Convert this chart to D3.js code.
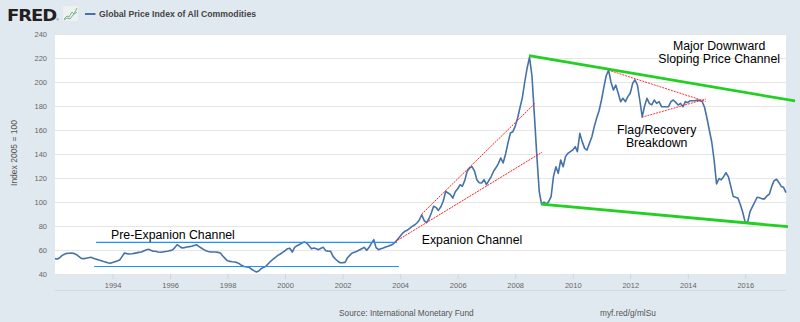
<!DOCTYPE html>
<html>
<head>
<meta charset="utf-8">
<script src="https://cdn.jsdelivr.net/npm/d3@7"></script>
<style>
  body { margin: 0; background: #e1e9f0; }
  svg { display: block; font-family: "Liberation Sans", Arial, sans-serif; }
</style>
</head>
<body>
<div id="chart"></div>
<script>
// monthly index, 2005 = 100, starting Jan 1992
var firstMonth = "1992-01";
var indexValues = [
  52.8, 52.5, 53.5, 55.5, 56.5, 57.2, 57.3, 57.5, 57.0, 56.1, 54.5, 53.0, // 1992
  52.8, 53.2, 53.6, 53.9, 53.2, 52.4, 51.9, 51.3, 50.6, 50.0, 49.3, 48.9, // 1993
  49.6, 50.3, 50.8, 51.7, 54.5, 57.5, 57.0, 56.7, 56.9, 57.2, 57.6, 58.0, // 1994
  58.3, 59.2, 60.0, 60.6, 59.8, 59.0, 58.9, 58.4, 58.1, 58.4, 58.7, 58.9, // 1995
  59.5, 60.0, 62.0, 64.4, 63.0, 61.7, 62.0, 62.5, 62.8, 63.1, 63.8, 64.4, // 1996
  63.0, 61.7, 60.5, 59.4, 58.8, 58.3, 58.3, 58.3, 58.0, 57.5, 55.0, 52.8, // 1997
  51.0, 50.5, 50.2, 50.0, 49.5, 48.5, 47.0, 46.2, 45.8, 45.6, 44.0, 42.8, // 1998
  41.7, 42.5, 44.4, 45.5, 46.4, 48.5, 50.6, 52.3, 53.9, 55.5, 56.7, 58.0, // 1999
  59.4, 61.1, 61.5, 58.3, 62.2, 63.6, 64.5, 65.8, 66.7, 65.8, 63.5, 61.1, // 2000
  61.7, 61.0, 60.3, 61.5, 62.2, 59.4, 59.0, 58.9, 54.7, 52.5, 50.6, 49.4, // 2001
  49.5, 49.7, 53.3, 55.5, 57.5, 58.2, 58.9, 60.0, 61.1, 62.2, 59.7, 62.0, // 2002
  65.5, 68.6, 62.0, 60.3, 61.0, 61.7, 62.5, 63.1, 64.0, 64.8, 66.7, 69.0, // 2003
  71.4, 74.0, 75.6, 76.5, 78.0, 79.7, 80.8, 82.5, 85.0, 89.4, 84.5, 82.8, // 2004
  86.0, 91.0, 96.4, 95.5, 93.0, 96.0, 100.6, 108.9, 107.5, 106.1, 103.3, 108.5, // 2005
  111.0, 114.4, 113.1, 118.0, 125.6, 128.3, 129.5, 126.0, 118.6, 116.0, 115.8, 118.6, // 2006
  114.4, 118.0, 121.0, 125.6, 128.5, 132.0, 136.7, 132.5, 140.0, 149.0, 157.5, 158.5, // 2007
  163.0, 170.0, 178.3, 187.0, 200.0, 211.7, 220.6, 205.0, 172.0, 139.4, 108.9, 98.3, // 2008
  100.0, 98.3, 100.3, 104.4, 121.1, 129.4, 123.9, 135.0, 129.4, 137.8, 140.6, 142.0, // 2009
  143.3, 146.1, 142.0, 157.2, 150.3, 144.7, 143.3, 148.9, 154.4, 162.8, 170.0, 176.0, // 2010
  185.0, 196.0, 205.0, 210.0, 200.0, 193.3, 197.5, 190.6, 183.6, 186.4, 183.6, 187.8, // 2011
  190.6, 198.9, 201.7, 197.5, 185.0, 171.0, 180.0, 186.4, 182.0, 181.0, 185.0, 182.2, // 2012
  183.6, 179.4, 179.4, 179.4, 179.4, 183.6, 185.0, 183.0, 180.8, 182.2, 179.4, 183.6, // 2013
  182.8, 184.4, 184.4, 184.4, 185.0, 184.4, 184.0, 179.0, 170.0, 160.0, 150.0, 135.0, // 2014
  115.0, 119.5, 118.5, 121.1, 124.4, 121.0, 113.0, 104.5, 103.9, 103.1, 97.5, 91.0, // 2015
  82.8, 83.5, 92.0, 96.1, 100.0, 104.0, 103.5, 102.6, 102.6, 105.0, 106.5, 112.8, // 2016
  117.8, 118.9, 116.5, 113.0, 112.2, 107.8 // 2017
];

var yTicks = [40, 60, 80, 100, 120, 140, 160, 180, 200, 220, 240];
var xTickYears = ["1994", "1996", "1998", "2000", "2002", "2004", "2006", "2008", "2010", "2012", "2014", "2016"];

// hand-drawn trend lines, [date, index] pairs
var preExpansionLines = [
  [["1993-06-06", 66.4], ["2003-11-20", 66.4]],
  [["1993-05-11", 46.25], ["2003-12-17", 46.25]]
];
var expansionLines = [
  [["2003-10-30", 66.9], ["2008-12-05", 141.4]],
  [["2004-10-01", 90.0], ["2008-09-09", 182.25]]
];
var flagLines = [
  [["2011-03-25", 210.0], ["2014-08-19", 183.75]],
  [["2012-05-26", 170.6], ["2014-08-19", 185.8]]
];
var channelLines = [
  [["2008-06-25", 221.9], ["2017-09-24", 184.2]],
  [["2008-11-24", 98.3], ["2017-06-27", 79.4]]
];

// text notes: date, index, lines of text
var notesLeft = [
  ["1993-12-13", 69.2, ["Pre-Expanion Channel"]],
  ["2004-10-01", 65.0, ["Expanion Channel"]]
];
var notesCentered = [
  ["2015-02-03", 226.7, ["Major Downward", "Sloping Price Channel"]],
  ["2012-12-02", 156.7, ["Flag/Recovery", "Breakdown"]]
];

var W = 800, H = 322;
var plot = {left: 55, right: 786, top: 34, bottom: 274};

var parseMonth = d3.timeParse("%Y-%m");
var parseDay = d3.timeParse("%Y-%m-%d");
var parseYear = d3.timeParse("%Y");

var start = parseMonth(firstMonth);
var data = indexValues.map(function(v, i) {
  return {date: d3.timeMonth.offset(start, i), value: v};
});

var svg = d3.select("#chart")
  .append("svg")
    .attr("width", W)
    .attr("height", H);

svg.append("rect")
  .attr("width", W)
  .attr("height", H)
  .attr("fill", "#e1e9f0");

var x = d3.scaleTime()
  .domain([data[0].date, data[data.length - 1].date])
  .range([plot.left, plot.right]);

var y = d3.scaleLinear()
  .domain([40, 240])
  .range([plot.bottom, plot.top]);

// white plotting area
svg.append("rect")
  .attr("x", plot.left)
  .attr("y", plot.top)
  .attr("width", plot.right - plot.left)
  .attr("height", plot.bottom - plot.top)
  .attr("fill", "#fff");

// horizontal grid + y labels
var yAxis = svg.append("g")
  .attr("transform", "translate(" + plot.left + ",0)")
  .call(d3.axisLeft(y).tickValues(yTicks).tickSize(-(plot.right - plot.left)).tickPadding(8));
yAxis.select(".domain").remove();
yAxis.selectAll("line").attr("stroke", "#e6e6e6");
yAxis.selectAll("text")
  .attr("fill", "#666")
  .style("font-size", "7.5px")
  .style("font-family", "'Liberation Sans', Arial, sans-serif");

svg.append("text")
  .attr("transform", "translate(17,153) rotate(-90)")
  .attr("text-anchor", "middle")
  .attr("fill", "#555")
  .style("font-size", "8.5px")
  .text("Index 2005 = 100");

// x axis
var xAxis = svg.append("g")
  .attr("transform", "translate(0," + plot.bottom + ")")
  .call(d3.axisBottom(x)
    .tickValues(xTickYears.map(parseYear))
    .tickFormat(d3.timeFormat("%Y"))
    .tickSize(5)
    .tickPadding(4));
xAxis.select(".domain").remove();
xAxis.selectAll("line").attr("stroke", "#ccd6e4");
xAxis.selectAll("text")
  .attr("fill", "#666")
  .style("font-size", "7.5px")
  .style("font-family", "'Liberation Sans', Arial, sans-serif");

svg.append("line")
  .attr("x1", plot.left).attr("x2", plot.right)
  .attr("y1", 290.5).attr("y2", 290.5)
  .attr("stroke", "#cfd9e3");

// the series
svg.append("path")
  .datum(data)
  .attr("fill", "none")
  .attr("stroke", "#4572a7")
  .attr("stroke-width", 1.6)
  .attr("stroke-linejoin", "round")
  .attr("d", d3.line()
    .x(function(d) { return x(d.date); })
    .y(function(d) { return y(d.value); }));

// trend lines
function drawLines(lines, color, width, dash) {
  svg.append("g")
    .selectAll("line")
    .data(lines)
    .enter().append("line")
      .attr("x1", function(d) { return x(parseDay(d[0][0])); })
      .attr("y1", function(d) { return y(d[0][1]); })
      .attr("x2", function(d) { return x(parseDay(d[1][0])); })
      .attr("y2", function(d) { return y(d[1][1]); })
      .attr("stroke", color)
      .attr("stroke-width", width)
      .attr("stroke-dasharray", dash);
}
drawLines(preExpansionLines, "#1e90ff", 1.2, null);
drawLines(expansionLines, "#ff1a1a", 1, "2,1");
drawLines(flagLines, "#ff1a1a", 0.9, "2,1");
drawLines(channelLines, "#22cf22", 2.8, null);

// notes
svg.append("g")
  .selectAll("text")
  .data(notesLeft)
  .enter().append("text")
    .attr("x", function(d) { return x(parseDay(d[0])); })
    .attr("y", function(d) { return y(d[1]); })
    .style("font-size", "12.3px")
    .attr("fill", "#000")
    .text(function(d) { return d[2][0]; });

var centered = svg.append("g")
  .selectAll("text")
  .data(notesCentered)
  .enter().append("text")
    .attr("x", function(d) { return x(parseDay(d[0])); })
    .attr("y", function(d) { return y(d[1]); })
    .attr("text-anchor", "middle")
    .style("font-size", "12.3px")
    .attr("fill", "#000");
centered.selectAll("tspan")
  .data(function(d) { return d[2].map(function(t) { return {t: t, x: x(parseDay(d[0]))}; }); })
  .enter().append("tspan")
    .attr("x", function(d) { return d.x; })
    .attr("dy", function(d, i) { return i ? 12.7 : 0; })
    .text(function(d) { return d.t; });

// header: logo, icon and legend
svg.append("text")
  .attr("x", 7)
  .attr("y", 20.5)
  .attr("textLength", 49)
  .attr("lengthAdjust", "spacingAndGlyphs")
  .attr("fill", "#231f20")
  .style("font-family", "'DejaVu Sans', sans-serif")
  .style("font-size", "16px")
  .style("font-weight", "bold")
  .style("letter-spacing", "-1px")
  .text("FRED");
svg.append("text")
  .attr("x", 56.5).attr("y", 20.5)
  .attr("fill", "#231f20")
  .style("font-size", "3px")
  .text("®");

var icon = svg.append("g").attr("transform", "translate(63,6)");
icon.append("rect")
  .attr("width", 15).attr("height", 15)
  .attr("fill", "#eef1f1");
icon.append("polyline")
  .attr("points", "1,13 4,10 6,11 9,6 11,8 14,2")
  .attr("fill", "none").attr("stroke", "#7bbf5a").attr("stroke-width", 1);
icon.append("polyline")
  .attr("points", "1,14 4,12 7,13 10,9 14,6")
  .attr("fill", "none").attr("stroke", "#7ea2c8").attr("stroke-width", 1);

svg.append("line")
  .attr("x1", 85).attr("x2", 95.5)
  .attr("y1", 14).attr("y2", 14)
  .attr("stroke", "#4572a7")
  .attr("stroke-width", 2);
svg.append("text")
  .attr("x", 99)
  .attr("y", 17)
  .attr("fill", "#444")
  .style("font-size", "8.7px")
  .style("font-weight", "bold")
  .text("Global Price Index of All Commodities");

// footer
svg.append("text")
  .attr("x", 339).attr("y", 316)
  .attr("fill", "#555")
  .style("font-size", "8.3px")
  .text("Source: International Monetary Fund");
svg.append("text")
  .attr("x", 600).attr("y", 316)
  .attr("fill", "#555")
  .style("font-size", "8.3px")
  .text("myf.red/g/mlSu");
</script>
</body>
</html>
